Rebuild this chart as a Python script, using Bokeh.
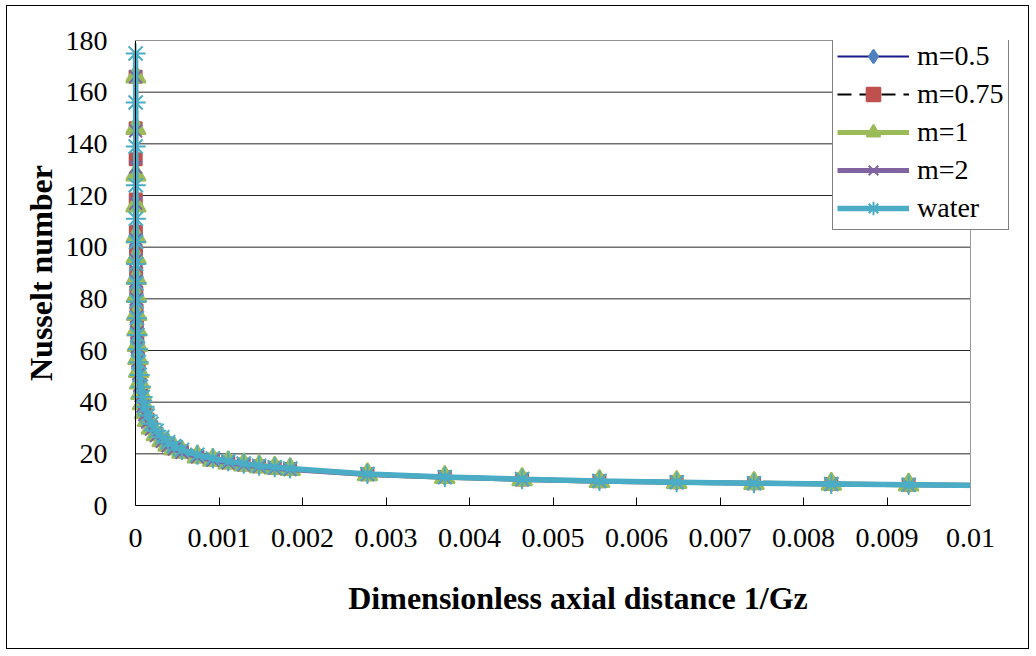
from bokeh.plotting import figure
from bokeh.models import FixedTicker, Span, Legend, LegendItem, BoxAnnotation
from bokeh.embed import file_html
from bokeh.resources import INLINE

# ---- data ----
inv_gz = [1.2e-6, 1.7e-6, 2.3e-6, 3.2e-6, 4.5e-6, 5.8e-6, 7.5e-6, 1.0e-5, 1.3e-5, 1.7e-5,
          2.2e-5, 2.9e-5, 3.8e-5, 5.0e-5, 6.5e-5, 8.5e-5, 1.1e-4, 1.45e-4, 1.9e-4, 2.5e-4,
          3.2e-4, 3.9e-4, 4.63e-4, 5.56e-4, 7.41e-4, 9.26e-4, 1.111e-3, 1.296e-3, 1.481e-3, 1.667e-3,
          1.852e-3, 2.778e-3, 3.704e-3, 4.630e-3, 5.556e-3, 6.481e-3, 7.407e-3, 8.333e-3, 9.259e-3, 1.0185e-2]

nu_m05 = [166, 146, 134, 119, 107, 99, 91, 83.5, 76.5, 70,
          64, 58.5, 53.5, 48.5, 44.3, 40.2, 36.6, 33.5, 30.4, 27.9,
          25.6, 23.8, 22.4, 21.0, 19.2, 17.9, 16.8, 16.0, 15.3, 14.7,
          14.2, 12.1, 11.0, 10.2, 9.5, 9.0, 8.6, 8.3, 8.0, 7.7]
nu_m075 = [166, 146, 134, 118.5, 106, 98, 90, 82.5, 75.5, 69.5,
           63.2, 58, 53, 48.2, 44, 40, 36.4, 33.3, 30.3, 27.8,
           25.5, 23.7, 22.3, 20.9, 19.1, 17.8, 16.7, 15.9, 15.2, 14.6,
           14.1, 12.1, 11.0, 10.1, 9.4, 9.0, 8.6, 8.3, 8.0, 7.7]
nu_m1 = [166, 146, 128, 116, 104, 96, 88, 81, 74, 68,
         62, 57, 52, 47.5, 43.5, 39.5, 36, 33, 30, 27.5,
         25.2, 23.4, 22.0, 20.7, 18.9, 17.6, 16.6, 15.8, 15.1, 14.5,
         14.0, 12.0, 10.9, 10.1, 9.4, 9.0, 8.6, 8.3, 8.0, 7.7]
nu_m2 = [166, 145, 131, 117, 103, 95, 87, 80, 73, 67,
         61.5, 56, 51, 46.5, 42.5, 38.5, 35.2, 32.3, 29.5, 27.0,
         24.8, 23.1, 21.8, 20.5, 18.8, 17.5, 16.5, 15.7, 15.0, 14.4,
         13.9, 12.0, 10.9, 10.1, 9.4, 9.0, 8.6, 8.3, 8.0, 7.7]
nu_water = [175, 156, 139, 124, 111, 102, 93.5, 86, 79, 72.5,
            66, 60.5, 55.5, 50.5, 46, 42, 38.2, 34.8, 31.6, 28.9,
            26.4, 24.5, 23.0, 21.5, 19.6, 18.2, 17.1, 16.2, 15.4, 14.8,
            14.3, 12.2, 11.0, 10.2, 9.5, 9.0, 8.6, 8.3, 8.0, 7.7]

series_names = ["m=0.5", "m=0.75", "m=1", "m=2", "water"]
x_ticks = [0, 0.001, 0.002, 0.003, 0.004, 0.005, 0.006, 0.007, 0.008, 0.009, 0.01]
x_tick_labels = ["0", "0.001", "0.002", "0.003", "0.004", "0.005", "0.006", "0.007", "0.008", "0.009", "0.01"]
y_ticks = [0, 20, 40, 60, 80, 100, 120, 140, 160, 180]

FONT = "Liberation Serif"
X_MIN, X_MAX = 0, 0.01
Y_MIN, Y_MAX = 0, 180

# ---- layout (page pixels) ----
OX, OY = 7, 6                 # canvas origin on the page (inside the 1px outer border)
W, H = 1023, 644              # canvas size
FRAME_L, FRAME_T, FRAME_B = 125, 40, 505
AXIS_X0, AXIS_X1 = 135, 970   # page x of x=0 and x=0.01
ppu = (AXIS_X1 - AXIS_X0) / (X_MAX - X_MIN)
frame_w = W - (FRAME_L - OX)
x_start = X_MIN - (AXIS_X0 - FRAME_L) / ppu
x_end = x_start + frame_w / ppu

p = figure(width=W, height=H, output_backend="svg", toolbar_location=None,
           x_range=(x_start, x_end), y_range=(Y_MIN, Y_MAX),
           min_border_left=FRAME_L - OX, min_border_right=0,
           min_border_top=FRAME_T - OY, min_border_bottom=H - (FRAME_B - OY))
p.margin = (5, 0, 0, 6)
p.styles = {"border": "1px solid #000000"}
p.outline_line_color = None
p.xgrid.visible = False
p.ygrid.visible = False
p.background_fill_color = "white"
p.border_fill_color = "white"

# horizontal gridlines (from the y axis to the right edge of the plot area)
g_y = [t for t in y_ticks if t != Y_MIN]
p.segment(x0=[X_MIN] * len(g_y), y0=g_y, x1=[X_MAX] * len(g_y), y1=g_y,
          line_color="#262626", line_width=1)

# axes
xa = p.xaxis[0]
xa.ticker = FixedTicker(ticks=x_ticks)
xa.major_label_overrides = {t: l for t, l in zip(x_ticks, x_tick_labels)}
xa.bounds = (X_MIN, X_MAX)
xa.minor_tick_line_color = None
xa.major_tick_in = 8
xa.major_tick_out = 0
xa.axis_line_color = "black"
xa.major_tick_line_color = "black"
xa.major_label_standoff = 23
xa.major_label_text_font = FONT
xa.major_label_text_font_size = "28px"
xa.major_label_text_color = "black"
xa.axis_label = "Dimensionless axial distance 1/Gz"
xa.axis_label_text_font = FONT
xa.axis_label_text_font_size = "32px"
xa.axis_label_text_font_style = "bold"
xa.axis_label_text_color = "black"
xa.axis_label_standoff = 30

ya = p.yaxis[0]
ya.ticker = FixedTicker(ticks=y_ticks)
ya.bounds = (Y_MIN, Y_MAX)
ya.minor_tick_line_color = None
ya.major_tick_in = 0
ya.major_tick_out = 0
ya.axis_line_color = None
ya.major_label_standoff = 18
ya.major_label_text_font = FONT
ya.major_label_text_font_size = "28px"
ya.major_label_text_color = "black"
ya.axis_label = "Nusselt number"
ya.axis_label_text_font = FONT
ya.axis_label_text_font_size = "32px"
ya.axis_label_text_font_style = "bold"
ya.axis_label_text_color = "black"
ya.axis_label_standoff = 4

styles = [
    dict(data=nu_m05, line_color="#1a1a8c", line_width=2, dash="solid",
         marker="diamond", size=15, fill="#4F81BD", mline="#4F81BD"),
    dict(data=nu_m075, line_color="black", line_width=2, dash="14 8",
         marker="square", size=12, fill="#C0504D", mline="#C0504D"),
    dict(data=nu_m1, line_color="#9BBB59", line_width=5, dash="solid",
         marker="triangle", size=20, fill="#9BBB59", mline="#9BBB59"),
    dict(data=nu_m2, line_color="#8064A2", line_width=5, dash="solid",
         marker="x", size=18, fill="#8064A2", mline="#8064A2"),
    dict(data=nu_water, line_color="#4BACC6", line_width=5.5, dash="solid",
         marker="asterisk", size=20, fill="#4BACC6", mline="#4BACC6"),
]

items = []
for name, st in zip(series_names, styles):
    r_line = p.line(inv_gz, st["data"], line_color=st["line_color"], line_width=st["line_width"],
                    line_dash=st["dash"])
    r_mark = p.scatter(inv_gz, st["data"], marker=st["marker"], size=st["size"],
                       fill_color=st["fill"], line_color=st["mline"], line_width=2)
    items.append(LegendItem(label=name, renderers=[r_line, r_mark]))

# the plot area ends at x = 0.01: blank out anything to its right
p.add_layout(BoxAnnotation(left=X_MAX, fill_color="white", fill_alpha=1, line_color=None))
p.add_layout(Span(location=X_MAX, dimension="height", line_color="#9a9a9a", line_width=1))
p.add_layout(Span(location=X_MIN, dimension="height", line_color="black", line_width=1))

legend = Legend(items=items, location=(707, 275))
legend.border_line_color = "black"
legend.border_line_width = 1
legend.background_fill_color = "white"
legend.background_fill_alpha = 1
legend.label_text_font = FONT
legend.label_text_font_size = "28px"
legend.label_text_color = "black"
legend.glyph_width = 72
legend.glyph_height = 34
legend.label_height = 34
legend.spacing = 4
legend.padding = 4
legend.margin = 0
legend.label_standoff = 8
p.add_layout(legend)

open("out.html", "w").write(file_html(p, INLINE))
